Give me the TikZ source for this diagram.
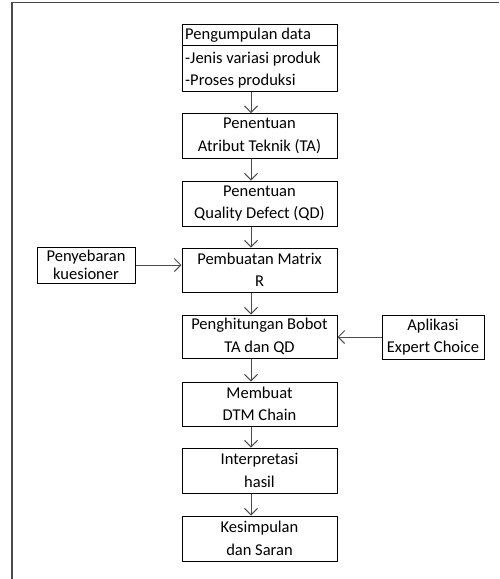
\documentclass[tikz,border=0pt]{standalone}
\usepackage{fontspec}
\setmainfont{Carlito}
\usetikzlibrary{arrows.meta}
\begin{document}
\begin{tikzpicture}[x=1pt,y=-1pt,
  box/.style={draw=black,line width=1pt,minimum width=155pt,align=center,inner sep=0pt,
    font=\fontsize{16.5}{22.5}\selectfont},
  side/.style={box},
  txt/.style={inner sep=0pt,anchor=west,font=\fontsize{16.5}{22.5}\selectfont},
  conn/.style={draw=black!70,line width=1pt,-{Straight Barb[length=6.5pt,width=13pt]}}]
\useasboundingbox (0,0) rectangle (499,579);
\draw[black!70,line width=1.5pt] (12,579) -- (12,2.5) -- (499,2.5);
% box 1
\node[draw=black,line width=1pt,minimum width=155pt,minimum height=67pt,inner sep=0pt,anchor=north west] (b1) at (182,24) {};
\coordinate (d1) at (182,45);
\draw[line width=1pt] (d1) -- (d1 -| b1.east);
\node[txt] (t1a) at (185,35) {Pengumpulan data};
\node[txt] (t1b) at (185,59) {-Jenis variasi produk};
\node[txt] (t1c) at (185,81) {-Proses produksi};
% main chain
\node[box,minimum height=45pt] (b2) at (259.5,136) {Penentuan\\Atribut Teknik (TA)};
\node[box,minimum height=45pt] (b3) at (259.5,203.5) {Penentuan\\Quality Defect (QD)};
\node[box,minimum height=44pt] (b4) at (259.5,270) {Pembuatan Matrix\\R};
\node[box,minimum height=43pt] (b5) at (259.5,336.5) {Penghitungan Bobot\\TA dan QD};
\node[box,minimum height=44pt] (b6) at (259.5,404) {Membuat\\DTM Chain};
\node[box,minimum height=45pt] (b7) at (259.5,470.5) {Interpretasi\\hasil};
\node[box,minimum height=45pt] (b8) at (259.5,538.5) {Kesimpulan\\dan Saran};
% side boxes
\node[side,minimum width=98pt,minimum height=36pt,font=\fontsize{16.5}{17.5}\selectfont] (s1) at (86,265) {Penyebaran\\kuesioner};
\node[side,minimum width=102pt,minimum height=44pt] (s2) at (433,337) {Aplikasi\\Expert Choice};
% connectors
\coordinate (ax) at (251,0);
\draw[conn] (b1.south -| ax) -- (b2.north -| ax);
\draw[conn] (b2.south -| ax) -- (b3.north -| ax);
\draw[conn] (b3.south -| ax) -- (b4.north -| ax);
\draw[conn] (b4.south -| ax) -- (b5.north -| ax);
\draw[conn] (b5.south -| ax) -- (b6.north -| ax);
\draw[conn] (b6.south -| ax) -- (b7.north -| ax);
\draw[conn] (b7.south -| ax) -- (b8.north -| ax);
\draw[conn] (s1.east) -- (s1.east -| b4.west);
\draw[conn] (s2.west) -- (s2.west -| b5.east);
\end{tikzpicture}
\end{document}
